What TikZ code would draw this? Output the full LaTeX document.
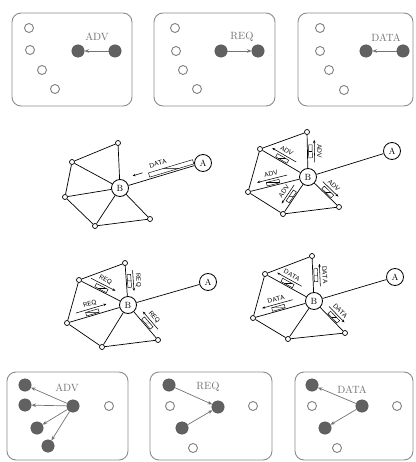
\documentclass[tikz,border=0pt]{standalone}
\usetikzlibrary{calc,arrows.meta}
\newcommand\netgraph[8]{%
  \node[gnode] (#1t) at (#2) {};
  \node[gnode] (#1lu) at (#3) {};
  \node[gnode] (#1ll) at (#4) {};
  \node[gnode] (#1b) at (#5) {};
  \node[gnode] (#1rb) at (#6) {};
  \node[bignode] (#1B) at (#7) {B};
  \node[bignode] (#1A) at (#8) {A};
  \draw[netline] (#1t) -- (#1lu) -- (#1ll) -- (#1b) -- (#1rb);
  \foreach \n in {t,lu,ll,b,rb} {\draw[netline] (#1B) -- (#1\n);}
  \draw[netline] (#1B) -- (#1A);
}
\newcommand\spk[5]{%
  \coordinate (sa) at ($(#1)!0.32!(#2)$);
  \coordinate (sb) at ($(#1)!0.82!(#2)$);
  \path ($(sa)!#4*3pt!90:(sb)$) -- ($(sb)!#4*3pt!-90:(sa)$) node[midway,sloped,allow upside down,packet] {};
  \draw[marrow,#5] ($(sa)!#4*7pt!90:(sb)$) -- ($(sb)!#4*7pt!-90:(sa)$);
  \path ($(sa)!#4*12pt!90:(sb)$) -- ($(sb)!#4*12pt!-90:(sa)$) node[midway,sloped,lab] {#3};
}
\begin{document}
\begin{tikzpicture}[x=1pt,y=-1pt,
  >={Stealth[length=3pt,width=2.4pt]},
  boxst/.style={draw=black!45,line width=0.9pt,rounded corners=9pt},
  opencirc/.style={circle,draw=black!50,line width=0.9pt,minimum size=9pt,inner sep=0pt},
  fullcirc/.style={circle,draw=black!65,fill=black!62,minimum size=12.5pt,inner sep=0pt},
  gtxt/.style={text=black!55,font=\fontsize{10.5}{12}\selectfont,inner sep=1pt},
  garrow/.style={draw=black!55,line width=0.7pt,-{Stealth[length=4.5pt,width=3.6pt]}},
  gnode/.style={circle,draw,line width=0.7pt,minimum size=5pt,inner sep=0pt,fill=white},
  bignode/.style={circle,draw,line width=0.8pt,minimum size=17pt,inner sep=0pt,font=\small,fill=white},
  netline/.style={line width=0.7pt},
  packet/.style={draw,rectangle,line width=0.45pt,minimum width=13pt,minimum height=3.6pt,inner sep=0pt,
    path picture={\draw[line width=0.35pt] (path picture bounding box.west) -- (path picture bounding box.east);}},
  lab/.style={font=\sffamily\fontsize{6.5}{7}\selectfont,inner sep=0pt},
  marrow/.style={line width=0.55pt},
]
\useasboundingbox (0,0) rectangle (415,462);

% ---------- top row ----------
\draw[boxst] (12,13) rectangle (132,106);
\node[opencirc] (t1o1) at (29,28) {};
\node[opencirc] (t1o2) at (30,50) {};
\node[opencirc] (t1o3) at (42,70) {};
\node[opencirc] (t1o4) at (55,89) {};
\node[fullcirc] (t1f1) at (78,51) {};
\node[fullcirc] (t1f2) at (115,51) {};
\draw[garrow] (t1f2) -- (t1f1);
\node[gtxt] (t1l) at (97,37) {ADV};

\draw[boxst] (154,13) rectangle (275,106);
\node[opencirc] (t2o1) at (175,28) {};
\node[opencirc] (t2o2) at (176,51) {};
\node[opencirc] (t2o3) at (183,70) {};
\node[opencirc] (t2o4) at (197,89) {};
\node[fullcirc] (t2f1) at (221,51) {};
\node[fullcirc] (t2f2) at (258,51) {};
\draw[garrow] (t2f1) -- (t2f2);
\node[gtxt] (t2l) at (242,37) {REQ};

\draw[boxst] (298,13) rectangle (413,106);
\node[opencirc] (t3o1) at (320,28) {};
\node[opencirc] (t3o2) at (320,51) {};
\node[opencirc] (t3o3) at (329,70) {};
\node[opencirc] (t3o4) at (344,90) {};
\node[fullcirc] (t3f1) at (366,51) {};
\node[fullcirc] (t3f2) at (403,51) {};
\draw[garrow] (t3f2) -- (t3f1);
\node[gtxt] (t3l) at (386,38) {DATA};

% ---------- graph 1 ----------
\netgraph{a}{118,143}{72,162}{65,197}{95,226}{150,219}{120,188}{203,163}
\coordinate (p1) at ($(aB)!0.36!(aA)$);
\coordinate (p2) at ($(aB)!0.90!(aA)$);
\path ($(p1)!4pt!90:(p2)$) -- ($(p2)!4pt!-90:(p1)$) node[midway,sloped,packet,minimum width=46pt,minimum height=4.4pt] {};
\coordinate (q1) at ($(aB)!0.18!(aA)$);
\coordinate (q2) at ($(aB)!0.30!(aA)$);
\draw[marrow,->] ($(q2)!8pt!-90:(q1)$) -- ($(q1)!8pt!90:(q2)$);
\coordinate (l1) at ($(aB)!0.40!(aA)$);
\coordinate (l2) at ($(aB)!0.60!(aA)$);
\path ($(l1)!12.5pt!90:(l2)$) -- ($(l2)!12.5pt!-90:(l1)$) node[midway,sloped,lab] {DATA};

% ---------- graph 2 ----------
\netgraph{b}{307,132}{260,149}{248,192}{283,214}{339,207}{308,177}{392,151}
\spk{bB}{bt}{ADV}{-1}{->}
\spk{bB}{blu}{ADV}{-1}{->}
\spk{bB}{bll}{ADV}{-1}{->}
\spk{bB}{bb}{ADV}{-1}{->}
\spk{bB}{brb}{ADV}{1}{->}

% ---------- graph 3 ----------
\netgraph{c}{125,263}{79,280}{67,323}{102,347}{158,340}{128,305}{208,282}
\spk{cB}{ct}{REQ}{-1}{<-}
\spk{cB}{clu}{REQ}{-1}{<-}
\spk{cB}{cll}{REQ}{-1}{<-}
\spk{cB}{crb}{REQ}{1}{<-}

% ---------- graph 4 ----------
\netgraph{d}{312,256}{265,274}{253,318}{288,339}{345,333}{314,301}{395,277}
\spk{dB}{dt}{DATA}{-1}{->}
\spk{dB}{dlu}{DATA}{-1}{->}
\spk{dB}{dll}{DATA}{-1}{->}
\spk{dB}{drb}{DATA}{1}{->}

% ---------- bottom row ----------
\draw[boxst] (7,372) rectangle (128,460);
\node[fullcirc] (b1f1) at (25,385) {};
\node[fullcirc] (b1f2) at (25,405) {};
\node[fullcirc] (b1f3) at (37,428) {};
\node[fullcirc] (b1f4) at (48,446) {};
\node[fullcirc] (b1c) at (73,406) {};
\node[opencirc] (b1o) at (109,406) {};
\foreach \k in {1,2,3,4} {\draw[garrow] (b1c) -- (b1f\k);}
\node[gtxt] (b1l) at (67,388) {ADV};

\draw[boxst] (150,372) rectangle (272,460);
\node[fullcirc] (b2f1) at (169,385) {};
\node[opencirc] (b2o1) at (170,406) {};
\node[fullcirc] (b2f2) at (182,428) {};
\node[opencirc] (b2o2) at (193,448) {};
\node[fullcirc] (b2c) at (218,407) {};
\node[opencirc] (b2o3) at (253,406) {};
\draw[garrow] (b2f1) -- (b2c);
\draw[garrow] (b2f2) -- (b2c);
\node[gtxt] (b2l) at (208,387) {REQ};

\draw[boxst] (295,372) rectangle (413,460);
\node[fullcirc] (b3f1) at (312,385) {};
\node[opencirc] (b3o1) at (312,406) {};
\node[fullcirc] (b3f2) at (325,428) {};
\node[opencirc] (b3o2) at (337,448) {};
\node[fullcirc] (b3c) at (362,406) {};
\node[opencirc] (b3o3) at (397,406) {};
\draw[garrow] (b3c) -- (b3f1);
\draw[garrow] (b3c) -- (b3f2);
\node[gtxt] (b3l) at (352,390) {DATA};
\end{tikzpicture}
\end{document}
